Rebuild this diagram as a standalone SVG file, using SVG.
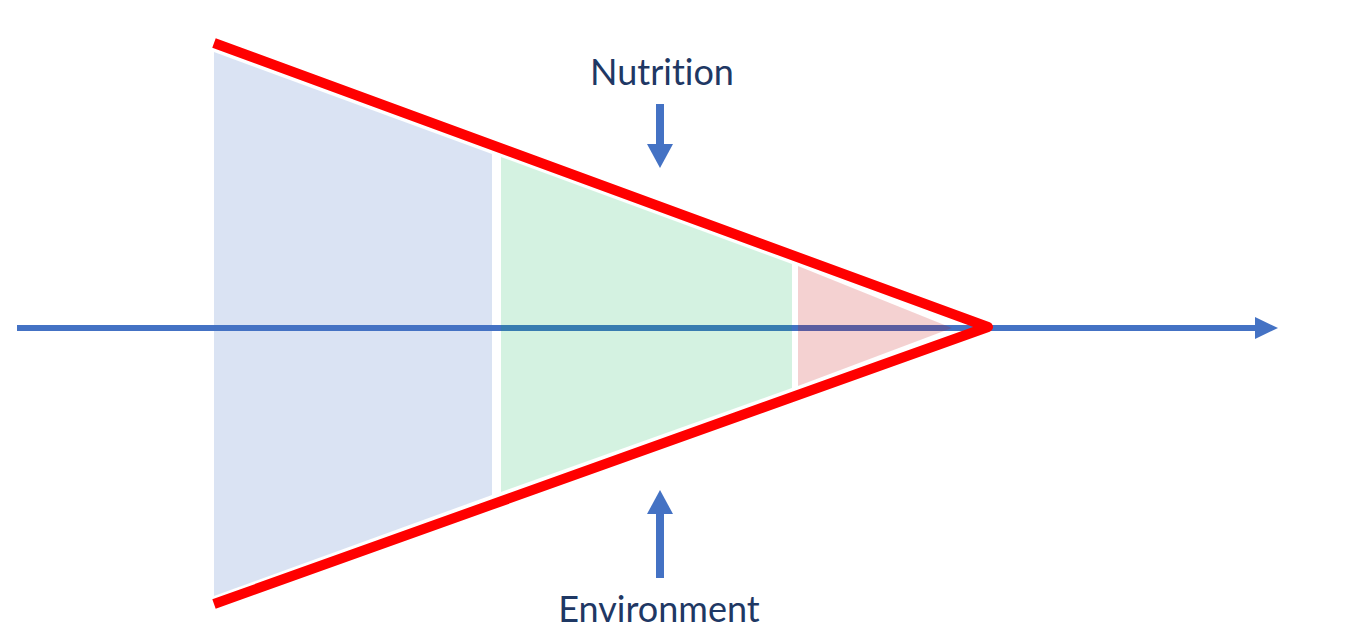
<svg xmlns="http://www.w3.org/2000/svg" width="1353" height="632" viewBox="0 0 1353 632">
<style>
.lbl{font-family:Lato,"Open Sans","Liberation Sans",sans-serif;font-size:36px;fill:#1f3864;text-anchor:middle;font-variant-ligatures:none;font-feature-settings:"liga" 0,"clig" 0,"dlig" 0}
.arr{fill:#4472c4}
</style>
<rect width="1353" height="632" fill="#ffffff"/>
<g id="connectors">
<g id="axis">
<rect class="arr" x="17" y="325" width="1242" height="6"/>
<polygon class="arr" points="1255,317 1278,328 1255,339"/>
</g>
</g>
<g id="stage1"><polygon points="214,52 492,154 492,495 214,596" fill="#4472c4" fill-opacity="0.2"/></g>
<g id="stage2"><polygon points="501,157 792,264 792,388 501,492" fill="#00b050" fill-opacity="0.17"/></g>
<g id="stage3"><polygon points="798,266 952,328 798,386" fill="#c00000" fill-opacity="0.18"/></g>
<g id="cone"><polyline points="214,43 988,327 214,604" fill="none" stroke="#ff0000" stroke-width="10" stroke-linejoin="round"/></g>
<g id="nutrition">
<text class="lbl" x="662" y="85">Nutrition</text>
<rect class="arr" x="656" y="104" width="8" height="42"/>
<polygon class="arr" points="647,144 673,144 660,168"/>
</g>
<g id="environment">
<text class="lbl" x="659" y="622">Environment</text>
<rect class="arr" x="656" y="512" width="8" height="66"/>
<polygon class="arr" points="647,514 673,514 660,490"/>
</g>
</svg>
